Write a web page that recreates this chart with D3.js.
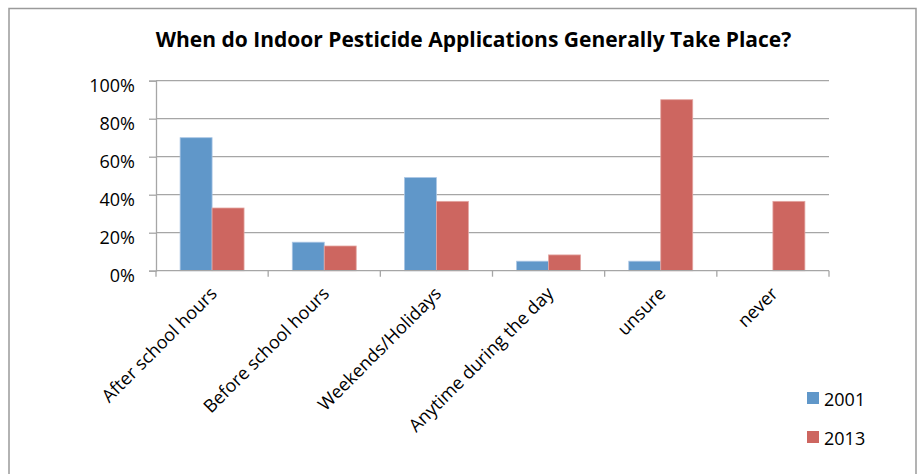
<!DOCTYPE html>
<html>
<head>
<meta charset="utf-8">
<script src="https://cdn.jsdelivr.net/npm/d3@7"></script>
<style>
  html, body { margin: 0; padding: 0; background: #fff; }
  svg { display: block; font-family: "Open Sans", Lato, sans-serif; }
</style>
</head>
<body>
<svg id="chart" width="919" height="474"></svg>
<script>
// Survey answers by category, as fractions of respondents
const categories = ["After school hours", "Before school hours", "Weekends/Holidays",
                    "Anytime during the day", "unsure", "never"];
const seriesNames = ["2001", "2013"];
const values2001 = [0.70, 0.15, 0.49, 0.05, 0.05, 0.00];
const values2013 = [0.33, 0.13, 0.365, 0.083, 0.90, 0.365];
const yTicks = [0, 0.2, 0.4, 0.6, 0.8, 1.0];
const colors = ["#6097c9", "#cd6660"];

const svg = d3.select("#chart");
const plotLeft = 156, plotRight = 829;

// outer chart frame
svg.append("rect")
  .attr("x", 9).attr("y", 8.5)
  .attr("width", 907).attr("height", 480)
  .attr("fill", "none").attr("stroke", "#9a9a9a").attr("stroke-width", 1.5);

svg.append("text")
  .attr("x", 473.5).attr("y", 47)
  .attr("text-anchor", "middle")
  .attr("font-size", 21).attr("font-weight", "bold")
  .attr("fill", "#000")
  .text("When do Indoor Pesticide Applications Generally Take Place?");

const x0 = d3.scaleBand().domain(categories)
  .range([plotLeft, plotRight]).paddingInner(0.43).paddingOuter(0.215);
const x1 = d3.scaleBand().domain(seriesNames).range([0, x0.bandwidth()]);
const y = d3.scaleLinear().domain([0, 1]).range([270.7, 80.7]);

// horizontal gridlines
svg.append("g").selectAll("line").data(yTicks.slice(1)).join("line")
  .attr("x1", plotLeft).attr("x2", plotRight)
  .attr("y1", d => y(d)).attr("y2", d => y(d))
  .attr("stroke", "#a6a6a6").attr("stroke-width", 1.3);

// bars
const rows = categories.map((c, i) => ({ cat: c, vals: [values2001[i], values2013[i]] }));
const groups = svg.append("g").selectAll("g").data(rows).join("g")
  .attr("transform", d => `translate(${x0(d.cat)},0)`);
groups.selectAll("rect")
  .data(d => d.vals.map((v, j) => ({ key: seriesNames[j], v, j })).filter(e => e.v > 0))
  .join("rect")
  .attr("x", d => x1(d.key))
  .attr("width", x1.bandwidth())
  .attr("y", d => y(d.v))
  .attr("height", d => y(0) - y(d.v))
  .attr("fill", d => colors[d.j])
  .attr("stroke", d => d.j === 0 ? "#a9c5e4" : "#e3a5a1")
  .attr("stroke-width", 0.8);

// y axis
const yAxis = svg.append("g").attr("transform", `translate(${plotLeft},0)`)
  .call(d3.axisLeft(y).tickValues(yTicks).tickFormat(d3.format(".0%")).tickSize(7).tickPadding(14));
yAxis.select(".domain").attr("stroke", "#a6a6a6").attr("stroke-width", 1.3);
yAxis.selectAll(".tick line").attr("stroke", "#a6a6a6").attr("stroke-width", 1.3);
yAxis.selectAll("text").attr("font-size", 18).attr("fill", "#000")
  .attr("font-family", "'Open Sans', sans-serif")
  .attr("dy", "0.62em");

// x axis with ticks on category boundaries
const xAxisG = svg.append("g").attr("transform", `translate(0,${y(0)})`);
xAxisG.append("line").attr("x1", plotLeft).attr("x2", plotRight)
  .attr("stroke", "#a6a6a6").attr("stroke-width", 1.3);
const step = (plotRight - plotLeft) / categories.length;
xAxisG.selectAll("line.t").data(d3.range(categories.length + 1)).join("line")
  .attr("class", "t")
  .attr("x1", i => plotLeft + i * step).attr("x2", i => plotLeft + i * step)
  .attr("y1", 0).attr("y2", 6)
  .attr("stroke", "#a6a6a6").attr("stroke-width", 1.3);
xAxisG.selectAll("text").data(categories).join("text")
  .attr("transform", d => `translate(${x0(d) + x0.bandwidth() / 2 + 6},${24}) rotate(-45)`)
  .attr("text-anchor", "end")
  .attr("font-size", 18).attr("fill", "#000")
  .text(d => d);

// legend
const legend = svg.append("g").selectAll("g").data(seriesNames).join("g")
  .attr("transform", (d, i) => `translate(807,${392 + i * 39})`);
legend.append("rect").attr("width", 12).attr("height", 12).attr("fill", (d, i) => colors[i]);
legend.append("text").attr("x", 17).attr("y", 14)
  .attr("font-size", 18).attr("fill", "#000").text(d => d);
</script>
</body>
</html>
